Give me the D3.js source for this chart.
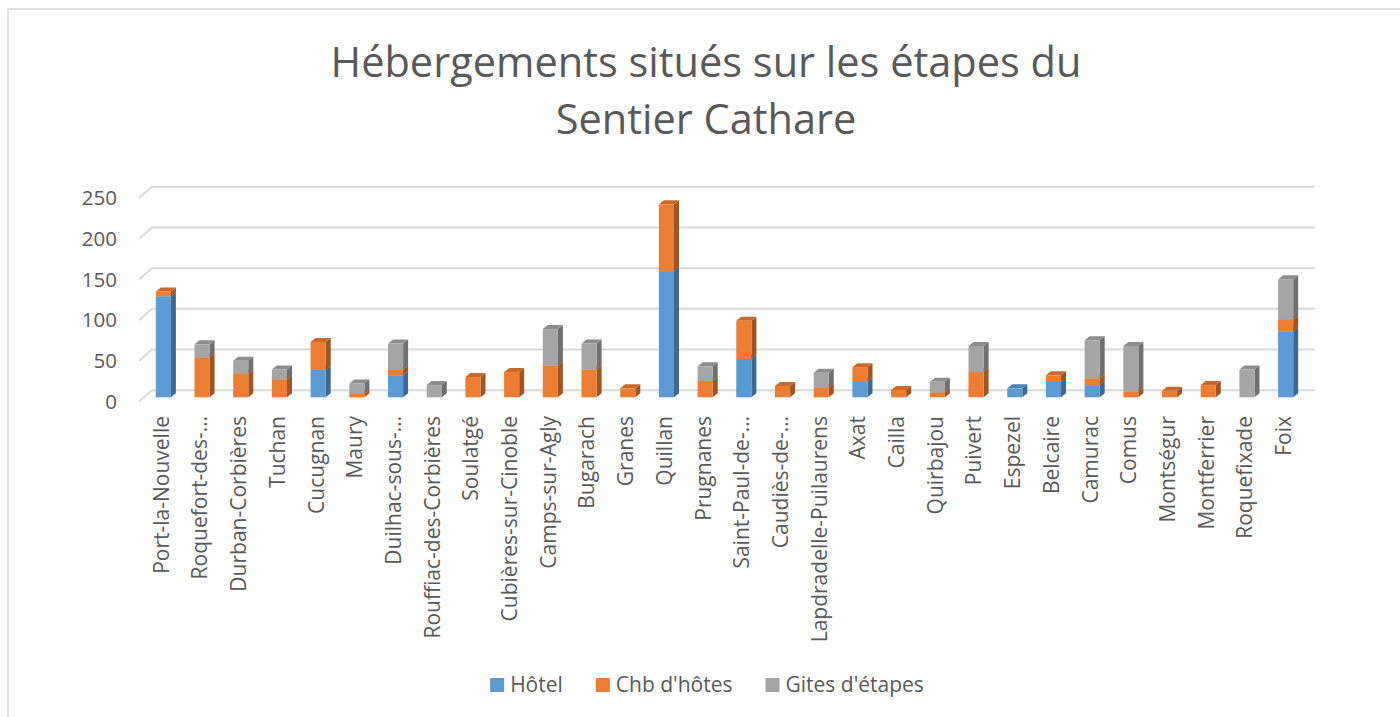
<!DOCTYPE html>
<html>
<head>
<meta charset="utf-8">
<script src="https://cdnjs.cloudflare.com/ajax/libs/d3/7.8.5/d3.min.js"></script>
<style>
  html, body { margin: 0; padding: 0; background: #fff; }
  svg { display: block; font-family: "Open Sans", sans-serif; }
</style>
</head>
<body>
<div id="chart"></div>
<script>
// etapes du Sentier Cathare, dans l'ordre
var categories = ['Port-la-Nouvelle', 'Roquefort-des-…', 'Durban-Corbières', 'Tuchan', 'Cucugnan',
    'Maury', 'Duilhac-sous-…', 'Rouffiac-des-Corbières', 'Soulatgé', 'Cubières-sur-Cinoble',
    'Camps-sur-Agly', 'Bugarach', 'Granes', 'Quillan', 'Prugnanes', 'Saint-Paul-de-…',
    'Caudiès-de-…', 'Lapdradelle-Puilaurens', 'Axat', 'Cailla', 'Quirbajou', 'Puivert',
    'Espezel', 'Belcaire', 'Camurac', 'Comus', 'Montségur', 'Montferrier', 'Roquefixade', 'Foix'];

var hotel    = [124, 0, 0, 0, 34, 0, 27, 0, 0, 0, 0, 0, 0, 155, 0, 47, 0, 0, 19, 0, 0, 0, 11, 19, 15, 0, 0, 0, 0, 81];
var chambres = [6, 49, 29, 22, 34, 4, 7, 0, 25, 31, 39, 34, 11, 82, 20, 47, 14, 12, 18, 9, 6, 31, 0, 8, 8, 7, 8, 15, 0, 14];
var gites    = [0, 16, 16, 12, 0, 13, 32, 15, 0, 0, 45, 32, 0, 0, 18, 0, 0, 18, 0, 0, 13, 32, 0, 0, 47, 56, 0, 0, 34, 50];

var seriesNames = ['Hôtel', "Chb d'hôtes", "Gites d'étapes"];
var seriesColors = ['#5B9BD5', '#ED7D31', '#A5A5A5'];
var yTicks = [0, 50, 100, 150, 200, 250];

var W = 1400, H = 717;
var textColor = '#595959';
var floorDx = 13, floorDy = -11.4;   // profondeur du sol (avant -> fond)
var barDx = 5, barDy = -4;           // profondeur des barres
var barShift = 7;                    // face avant des barres sous le mur du fond

var rows = categories.map(function(c, i){
    return { cat: c, 'Hôtel': hotel[i], "Chb d'hôtes": chambres[i], "Gites d'étapes": gites[i] };
});

var svg = d3.select('#chart').append('svg')
    .attr('width', W)
    .attr('height', H);

// cadre
svg.append('path')
    .attr('d', 'M8,' + H + 'V9H' + W)
    .attr('fill', 'none')
    .attr('stroke', '#D9D9D9')
    .attr('stroke-width', 1.5);

// titre
var title = svg.append('text')
    .attr('text-anchor', 'middle')
    .attr('fill', textColor)
    .style('font-size', '41.5px');
title.append('tspan').attr('x', 706).attr('y', 77).text('Hébergements situés sur les étapes du');
title.append('tspan').attr('x', 706).attr('y', 134).text('Sentier Cathare');

var y = d3.scaleLinear().domain([0, 250]).range([390.3, 186.7]);
var x = d3.scaleBand().domain(categories).range([144, 1305]).paddingInner(0.61).paddingOuter(0.305);

// quadrillage (mur du fond + sol)
svg.append('g').selectAll('path')
    .data(yTicks)
    .join('path')
    .attr('d', function(d){
        var yb = y(d);
        return 'M' + (152 - floorDx) + ',' + (yb - floorDy) + 'L152,' + yb + 'L1315,' + yb;
    })
    .attr('fill', 'none')
    .attr('stroke', '#D9D9D9')
    .attr('stroke-width', 2);

// axe des valeurs
var yAxis = svg.append('g')
    .attr('transform', 'translate(117,' + (-floorDy) + ')')
    .call(d3.axisLeft(y).tickValues(yTicks).tickSize(0).tickPadding(0));
yAxis.select('.domain').remove();
yAxis.selectAll('text')
    .attr('fill', textColor)
    .style('font-family', '"Open Sans", sans-serif')
    .style('font-size', '20.5px');

// axe des categories
var xAxis = svg.append('g')
    .attr('transform', 'translate(-2,416)')
    .call(d3.axisBottom(x).tickSize(0));
xAxis.select('.domain').remove();
xAxis.selectAll('text')
    .attr('x', 0)
    .attr('y', 0)
    .attr('dy', '0.35em')
    .attr('transform', 'rotate(-90)')
    .attr('text-anchor', 'end')
    .attr('fill', textColor)
    .style('font-family', '"Open Sans", sans-serif')
    .style('font-size', '21px');

// barres empilees en pseudo 3D
var stacked = d3.stack().keys(seriesNames)(rows);
var color = d3.scaleOrdinal().domain(seriesNames).range(seriesColors);

var segs = [];
stacked.forEach(function(layer){
    layer.forEach(function(d){
        if (d[1] - d[0] > 0) segs.push({ key: layer.key, y0: d[0], y1: d[1], cat: d.data.cat });
    });
});
// du bas vers le haut pour que les faces superieures soient recouvertes
segs.sort(function(a, b){ return a.y0 - b.y0; });

var bw = x.bandwidth();
var bars = svg.append('g').selectAll('g')
    .data(segs)
    .join('g');

bars.append('path') // face laterale
    .attr('d', function(d){
        var x1 = x(d.cat) + bw, yt = y(d.y1) + barShift, yb = y(d.y0) + barShift;
        return 'M' + x1 + ',' + yb + 'L' + x1 + ',' + yt + 'L' + (x1 + barDx) + ',' + (yt + barDy) +
            'L' + (x1 + barDx) + ',' + (yb + barDy) + 'Z';
    })
    .attr('fill', function(d){ return d3.color(color(d.key)).darker(1.1); });

bars.append('path') // dessus
    .attr('d', function(d){
        var x0 = x(d.cat), x1 = x0 + bw, yt = y(d.y1) + barShift;
        return 'M' + x0 + ',' + yt + 'L' + x1 + ',' + yt + 'L' + (x1 + barDx) + ',' + (yt + barDy) +
            'L' + (x0 + barDx) + ',' + (yt + barDy) + 'Z';
    })
    .attr('fill', function(d){ return d3.color(color(d.key)).darker(0.45); });

bars.append('rect') // face avant
    .attr('x', function(d){ return x(d.cat); })
    .attr('y', function(d){ return y(d.y1) + barShift; })
    .attr('width', bw)
    .attr('height', function(d){ return y(d.y0) - y(d.y1); })
    .attr('fill', function(d){ return color(d.key); });

// legende
var legend = svg.append('g').attr('transform', 'translate(0,692)');
var items = legend.selectAll('g')
    .data(seriesNames)
    .join('g');
items.append('rect')
    .attr('y', -14)
    .attr('width', 14)
    .attr('height', 14)
    .attr('fill', function(d){ return color(d); });
items.append('text')
    .attr('x', 20)
    .attr('fill', textColor)
    .style('font-size', '21px')
    .text(function(d){ return d; });

var pos = 0, widths = [];
items.each(function(){
    var w = 20 + d3.select(this).select('text').node().getComputedTextLength();
    widths.push(w);
});
var total = d3.sum(widths) + 33 * (widths.length - 1);
pos = 707 - total / 2;
items.attr('transform', function(d, i){
    var p = pos;
    pos += widths[i] + 33;
    return 'translate(' + p + ',0)';
});
</script>
</body>
</html>
